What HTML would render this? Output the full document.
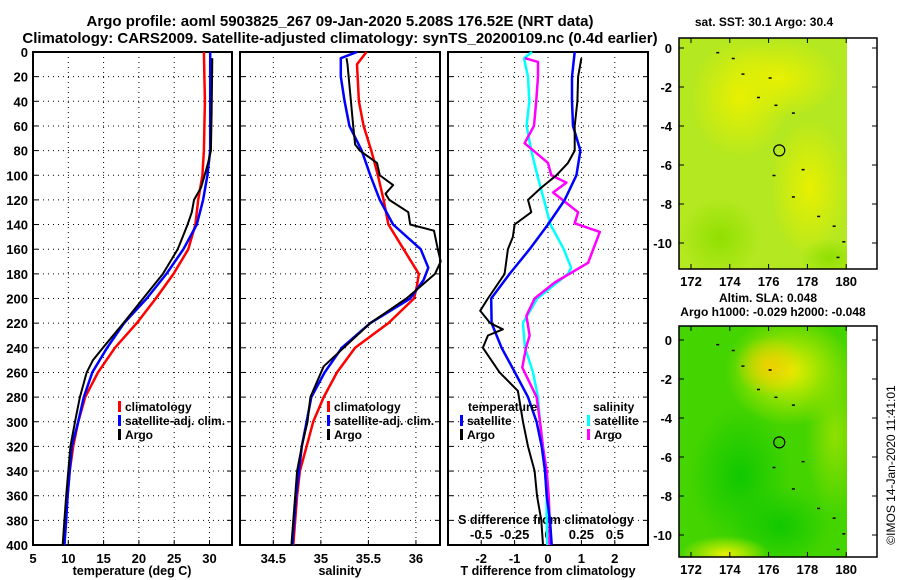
<!DOCTYPE html>
<html><head><meta charset="utf-8"><style>
html,body{margin:0;padding:0;background:#fff}
svg{display:block;font-family:"Liberation Sans",sans-serif;font-weight:bold}
</style></head><body>
<svg id="c" width="900" height="580" viewBox="0 0 900 580">
<text x="340" y="26" font-size="15" text-anchor="middle">Argo profile: aoml 5903825_267 09-Jan-2020 5.208S 176.52E (NRT data)</text>
<text x="340" y="43" font-size="15" text-anchor="middle">Climatology: CARS2009. Satellite-adjusted climatology: synTS_20200109.nc (0.4d earlier)</text>
<text x="132" y="575" font-size="12.5" text-anchor="middle">temperature (deg C)</text>
<text x="340" y="575" font-size="12.5" text-anchor="middle">salinity</text>
<text x="548" y="575" font-size="12.5" text-anchor="middle">T difference from climatology</text>
<text x="546" y="524" font-size="12.5" text-anchor="middle">S difference from climatology</text>
<text x="764" y="26" font-size="12" text-anchor="middle">sat. SST: 30.1 Argo: 30.4</text>
<text x="768" y="302" font-size="12" text-anchor="middle">Altim. SLA: 0.048</text>
<text x="773" y="316" font-size="12" text-anchor="middle">Argo h1000: -0.029 h2000: -0.048</text>
<text transform="translate(895,465) rotate(-90)" font-size="12" text-anchor="middle" font-weight="normal">©IMOS 14-Jan-2020 11:41:01</text>
<defs>
<radialGradient id="g1" cx="0.5" cy="0.5" r="0.5"><stop offset="0" stop-color="#e8f000"/><stop offset="1" stop-color="#e8f000" stop-opacity="0"/></radialGradient>
<radialGradient id="g2" cx="0.5" cy="0.5" r="0.5"><stop offset="0" stop-color="#10c800"/><stop offset="1" stop-color="#10c800" stop-opacity="0"/></radialGradient>
<radialGradient id="g3" cx="0.5" cy="0.5" r="0.5"><stop offset="0" stop-color="#f0d000"/><stop offset="1" stop-color="#f0d000" stop-opacity="0"/></radialGradient>
<radialGradient id="g4" cx="0.5" cy="0.5" r="0.5"><stop offset="0" stop-color="#90e000"/><stop offset="1" stop-color="#90e000" stop-opacity="0"/></radialGradient>
<clipPath id="clipTop"><rect x="679" y="38" width="168" height="231"/></clipPath>
<clipPath id="clipBot"><rect x="679" y="326" width="168" height="231"/></clipPath>
</defs>
</svg>
<script>
// ---- data (depth m) ----
var tDepth=[0,40,80,100,120,140,160,180,200,220,240,260,280,300,320,340,360,380,400];
var tClim=[29.2,29.35,29.2,29.0,28.4,28.0,27.0,24.9,22.4,19.7,16.6,14.2,12.4,11.4,10.7,10.2,9.9,9.55,9.3];
var tSatDepth=[0,80,100,120,140,160,180,200,220,240,260,280,300,320,340,360,380,400];
var tSat=[30.1,30.1,29.7,29.1,28.2,26.3,23.9,21.1,17.9,15.5,13.4,12.2,11.4,10.5,10.2,9.9,9.7,9.45];
var tArgoDepth=[5,50,80,90,100,110,120,130,140,150,160,180,200,220,240,250,260,280,300,320,340,360,380,400];
var tArgo=[30.4,30.3,30.2,29.8,29.3,28.8,27.8,27.5,26.9,26.2,25.5,23.4,20.6,17.8,14.9,13.5,12.6,11.65,10.95,10.3,10.0,9.7,9.45,9.2];
var sClimDepth=[0,10,40,60,80,100,120,140,160,175,180,190,200,220,240,260,280,300,320,340,360,380,400];
var sClim=[35.48,35.38,35.4,35.45,35.53,35.6,35.66,35.71,35.87,35.99,36.03,36.01,35.98,35.71,35.36,35.17,35.03,34.92,34.85,34.78,34.75,34.73,34.71];
var sSatDepth=[0,5,20,40,60,80,100,120,140,160,175,185,200,220,240,260,280,300,320,340,360,380,400];
var sSat=[35.38,35.21,35.21,35.25,35.3,35.43,35.52,35.62,35.76,36.05,36.13,36.08,35.94,35.52,35.22,35.04,34.9,34.85,34.8,34.77,34.74,34.72,34.7];
var sArgoDepth=[5,10,60,75,80,90,100,108,115,120,130,140,145,160,170,180,190,200,220,240,255,280,300,320,340,360,380,400];
var sArgo=[35.27,35.28,35.34,35.36,35.41,35.59,35.62,35.76,35.68,35.72,35.92,35.94,36.19,36.23,36.26,36.2,36.05,35.9,35.52,35.24,35.03,34.89,34.86,34.8,34.75,34.73,34.71,34.69];
var dtSatDepth=[0,20,40,60,80,100,120,140,160,180,200,220,240,260,280,300,320,340,360,380,400];
var dtSat=[0.8,0.72,0.72,0.75,0.97,0.85,0.5,0.0,-0.55,-1.15,-1.7,-1.69,-1.39,-0.99,-0.6,-0.34,-0.19,-0.09,-0.04,0.06,0.11];
var dtArgoDepth=[5,20,40,60,80,90,100,110,120,130,140,150,160,180,200,210,220,225,230,240,260,275,300,320,340,360,380,400];
var dtArgo=[1.0,0.9,0.88,0.8,0.8,0.6,0.25,-0.2,-0.6,-0.5,-1.0,-1.05,-1.2,-1.3,-1.8,-2.03,-1.73,-1.35,-1.8,-1.95,-1.45,-0.9,-0.75,-0.6,-0.4,-0.33,-0.2,-0.15];
var dsSatDepth=[0,5,20,40,60,80,100,120,140,160,175,180,200,220,240,260,280,300,320,340,360,380,400];
var dsSat=[-0.12,-0.18,-0.15,-0.14,-0.16,-0.125,-0.08,-0.03,0.018,0.118,0.173,0.15,-0.08,-0.188,-0.172,-0.112,-0.075,-0.06,-0.038,-0.022,-0.01,-0.01,-0.005];
var dsArgoDepth=[5,8,20,40,60,74,90,100,106,114,130,139,146,171,187,200,214,230,240,256,280,300,320,340,360,380,400];
var dsArgo=[-0.172,-0.075,-0.075,-0.088,-0.105,-0.175,0.0,0.025,0.138,0.038,0.225,0.2,0.388,0.3,0.05,-0.1,-0.162,-0.138,-0.165,-0.192,-0.085,-0.06,-0.038,-0.01,0.005,0.012,0.012];
var depthTicks=[0,20,40,60,80,100,120,140,160,180,200,220,240,260,280,300,320,340,360,380,400];
var tTicks=[5,10,15,20,25,30];
var sTicks=[34.5,35,35.5,36];
var dtTicks=[-2,-1,0,1,2];
var dsTicks=[-0.5,-0.25,0,0.25,0.5];
var dsTickLabels=["-0.5","-0.25","0","0.25","0.5"];
var latTicks=[0,-2,-4,-6,-8,-10];
var lonTicks=[172,174,176,178,180];

var svg=document.getElementById('c'),NS='http://www.w3.org/2000/svg';
function mk(tag,at,parent){var e=document.createElementNS(NS,tag);for(var k in at)e.setAttribute(k,at[k]);(parent||svg).appendChild(e);return e;}
function y(d){return 52+d*1.2325;}
function xT(t){return 33+(t-5)*7.06;}
function xS(s){return 273.3+(s-34.5)*95.1;}
function xD(d){return 548+d*33.4;}
function xDS(s){return 548+s*4*33.4;}
var panels=[{x0:33,x1:232,sx:xT,tk:tTicks,name:'temperature'},{x0:240,x1:440,sx:xS,tk:sTicks,name:'salinity'},{x0:448,x1:648,sx:xD,tk:dtTicks,name:'difference'}];
panels.forEach(function(p,i){
  depthTicks.forEach(function(d){
    if(d>0&&d<400){var l=mk('line',{x1:p.x0,x2:p.x1,y1:y(d),y2:y(d),stroke:'#000','stroke-dasharray':'1,4','stroke-width':1});
    
    }
    var t1=mk('line',{x1:p.x0,x2:p.x0+5,y1:y(d),y2:y(d),stroke:'#000'});
    
    
    var t2=mk('line',{x1:p.x1-5,x2:p.x1,y1:y(d),y2:y(d),stroke:'#000'});
    
    
    if(i==0){var tx=mk('text',{x:28,y:y(d)+5,'font-size':13,'text-anchor':'end'});tx.textContent=d;
    
    }
  });
  p.tk.forEach(function(v){
    var X=p.sx(v);
    if(X>p.x0+2&&X<p.x1-2){var g=mk('line',{x1:X,x2:X,y1:52,y2:545,stroke:'#000','stroke-dasharray':'1,4'});
    
    }
    var tt=mk('line',{x1:X,x2:X,y1:540,y2:545,stroke:'#000'});
    
    
    var lb=mk('text',{x:X,y:563,'font-size':13,'text-anchor':'middle'});lb.textContent=v;
    
    
  });
  var fr=mk('rect',{x:p.x0,y:52,width:p.x1-p.x0,height:493,fill:'none',stroke:'#000','stroke-width':2});
  
  
});
dsTicks.forEach(function(v,i){
  var lb=mk('text',{x:xDS(v),y:539,'font-size':13,'text-anchor':'middle'});lb.textContent=dsTickLabels[i];
  
  
});
function line(ds,vs,fx,col,w,name){
  var pts=ds.map(function(d,i){return fx(vs[i]).toFixed(1)+','+y(d).toFixed(1);}).join(' ');
  var pl=mk('polyline',{points:pts,fill:'none',stroke:col,'stroke-width':w,'stroke-linejoin':'round'});
  
  
}
line(tDepth,tClim,xT,'#f00',2.5,'temperature-climatology-line');
line(tSatDepth,tSat,xT,'#00f',2.5,'temperature-satellite-line');
line(tArgoDepth,tArgo,xT,'#000',2,'temperature-argo-line');
line(sClimDepth,sClim,xS,'#f00',2.5,'salinity-climatology-line');
line(sSatDepth,sSat,xS,'#00f',2.5,'salinity-satellite-line');
line(sArgoDepth,sArgo,xS,'#000',2,'salinity-argo-line');
line(dsSatDepth,dsSat,xDS,'#0ff',2.5,'s-diff-satellite-line');
line(dsArgoDepth,dsArgo,xDS,'#f0f',2.5,'s-diff-argo-line');
line(dtSatDepth,dtSat,xD,'#00f',2.5,'t-diff-satellite-line');
line(dtArgoDepth,dtArgo,xD,'#000',2,'t-diff-argo-line');
function leg(x,yy,col,txt,name){
  var r=mk('rect',{x:x,y:yy-10,width:3,height:11,fill:col});
  
  
  var t=mk('text',{x:x+7,y:yy,'font-size':12});t.textContent=txt;
  
  
}
[[118,'temp'],[327,'sal']].forEach(function(a){
  leg(a[0],411,'#f00','climatology',a[1]+'-legend-climatology');
  leg(a[0],425,'#00f','satellite-adj. clim.',a[1]+'-legend-satellite');
  leg(a[0],439,'#000','Argo',a[1]+'-legend-argo');
});
var th=mk('text',{x:468,y:411,'font-size':12});th.textContent='temperature';


var sh=mk('text',{x:593,y:411,'font-size':12});sh.textContent='salinity';


leg(460,425,'#00f','satellite','diff-legend-t-satellite');
leg(460,439,'#000','Argo','diff-legend-t-argo');
leg(587,425,'#0ff','satellite','diff-legend-s-satellite');
leg(587,439,'#f0f','Argo','diff-legend-s-argo');

// ---- maps ----
function lx(l){return 691+(l-172)*19.4;}
function map(top,lat0y,base,blobs,clip,name){
  var g=mk('g',{});
  
  
  var f=mk('g',{'clip-path':'url(#'+clip+')'},g);
  mk('rect',{x:679,y:top,width:168,height:231,fill:base},f);
  blobs.forEach(function(b){mk('ellipse',{cx:b[0],cy:b[1]+top,rx:b[2],ry:b[3],fill:'url(#'+b[4]+')'},f);});
  mk('rect',{x:679,y:top,width:198,height:231,fill:'none',stroke:'#000','stroke-width':1.5},g);
  latTicks.forEach(function(v){
    var Y=lat0y+(-v)*19.5;
    mk('line',{x1:679,x2:684,y1:Y,y2:Y,stroke:'#000'},g);
    mk('line',{x1:872,x2:877,y1:Y,y2:Y,stroke:'#000'},g);
    var t=mk('text',{x:672,y:Y+5,'font-size':13,'text-anchor':'end'},g);t.textContent=v;
  });
  lonTicks.forEach(function(v){
    var X=lx(v);
    mk('line',{x1:X,x2:X,y1:top+226,y2:top+231,stroke:'#000'},g);
    mk('line',{x1:X,x2:X,y1:top,y2:top+5,stroke:'#000'},g);
    var t=mk('text',{x:X,y:top+248,'font-size':13,'text-anchor':'middle'},g);t.textContent=v;
  });
  var c=mk('circle',{cx:lx(176.55),cy:lat0y+5.25*19.5,r:5.5,fill:'none',stroke:'#000','stroke-width':1.2},g);
  
  
  [[173.3,-0.2],[174.1,-0.5],[174.6,-1.3],[175.4,-2.5],[176.0,-1.5],[176.3,-2.9],[177.2,-3.3],[176.2,-6.5],[177.7,-6.2],[177.2,-7.6],[178.5,-8.6],[179.3,-9.1],[179.8,-9.9],[179.5,-10.7]].forEach(function(p){
    mk('rect',{x:lx(p[0]),y:lat0y-p[1]*19.5,width:3,height:1.5,fill:'#000'},g);
  });
}
map(38,48,'#b4e820',[[740,60,50,60,'g1'],[810,150,40,70,'g1'],[780,40,60,40,'g1'],[720,200,40,40,'g4'],[830,220,30,20,'g4']],'clipTop','sst-map');
map(326,340,'#44d400',[[790,45,65,55,'g1'],[770,40,35,30,'g3'],[835,110,30,80,'g4'],[740,150,50,70,'g2'],[780,200,50,40,'g2'],[725,228,45,18,'g1']],'clipBot','sla-map');
</script>
</body></html>
